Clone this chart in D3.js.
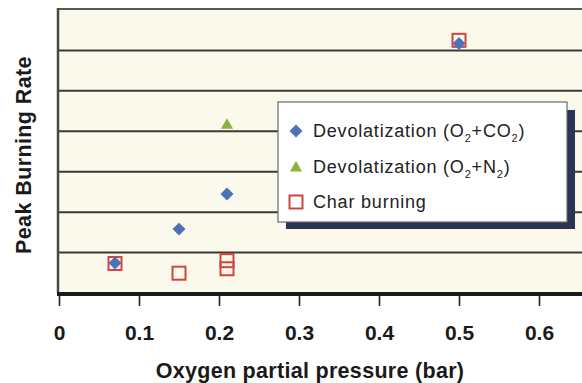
<!DOCTYPE html>
<html>
<head>
<meta charset="utf-8">
<script src="https://cdn.jsdelivr.net/npm/d3@7"></script>
<style>
  body { margin: 0; background: #fff; }
  svg { display: block; font-family: "Liberation Sans", Arial, sans-serif; }
</style>
</head>
<body>
<div id="chart"></div>
<script>
// data (y in grid-band units, no labels on that axis)
const xTicks = [0, 0.1, 0.2, 0.3, 0.4, 0.5, 0.6];
const devolCO2 = [[0.07, 0.74], [0.15, 1.58], [0.21, 2.45], [0.5, 6.17]];
const devolN2 = [[0.21, 4.15]];
const charBurning = [[0.07, 0.73], [0.15, 0.49], [0.21, 0.80], [0.21, 0.60], [0.5, 6.25]];
const legendLabels = [
  {name: "Devolatization (O", sub1: "2", mid: "+CO", sub2: "2", end: ")"},
  {name: "Devolatization (O", sub1: "2", mid: "+N", sub2: "2", end: ")"},
  {name: "Char burning"}
];

const width = 582, height = 383;
const svg = d3.select("#chart").append("svg")
    .attr("width", width)
    .attr("height", height);

const x = d3.scaleLinear().domain([0, 0.7]).range([59, 619]);
const y = d3.scaleLinear().domain([0, 7]).range([293, 10]);

// plot background
svg.append("rect")
    .attr("x", x(0)).attr("y", y(7))
    .attr("width", width - x(0)).attr("height", y(0) - y(7))
    .attr("fill", "#fbf8ec");

// horizontal grid lines
svg.selectAll("line.grid")
  .data(d3.range(1, 7))
  .join("line")
    .attr("class", "grid")
    .attr("x1", x(0)).attr("x2", width)
    .attr("y1", d => y(d)).attr("y2", d => y(d))
    .attr("stroke", "#3b3a36")
    .attr("stroke-width", 2);

// top border
svg.append("line")
    .attr("x1", x(0) - 1).attr("x2", width)
    .attr("y1", y(7) - 1).attr("y2", y(7) - 1)
    .attr("stroke", "#5a5955").attr("stroke-width", 2);

// left border
svg.append("line")
    .attr("x1", x(0) - 1).attr("x2", x(0) - 1)
    .attr("y1", y(7) - 2).attr("y2", y(0))
    .attr("stroke", "#4a4945").attr("stroke-width", 2.5);

// x axis
const xAxis = d3.axisBottom(x)
    .tickValues(xTicks)
    .tickSize(11)
    .tickPadding(19)
    .tickFormat(d => d === 0 ? "0" : d3.format(".1f")(d));

const gx = svg.append("g")
    .attr("transform", `translate(0,${y(0) + 2})`)
    .call(xAxis);
gx.select(".domain").remove();
gx.selectAll(".tick line").attr("stroke", "#222").attr("stroke-width", 1.6);
gx.selectAll(".tick text")
    .attr("fill", "#1a1a1a")
    .style("font-size", "21px")
    .style("font-weight", "bold")
    .style("font-family", "Liberation Sans, Arial, sans-serif");

// thick baseline
svg.append("line")
    .attr("x1", x(0) - 2).attr("x2", width)
    .attr("y1", y(0) + 1).attr("y2", y(0) + 1)
    .attr("stroke", "#1a1a1a").attr("stroke-width", 4);

// axis titles
svg.append("text")
    .attr("x", 310).attr("y", 378)
    .attr("text-anchor", "middle")
    .style("font-size", "21.5px").style("font-weight", "bold")
    .style("letter-spacing", "0.3px")
    .attr("fill", "#1a1a1a")
    .text("Oxygen partial pressure (bar)");

svg.append("text")
    .attr("transform", "translate(31,155) rotate(-90)")
    .attr("text-anchor", "middle")
    .style("font-size", "21.5px").style("font-weight", "bold")
    .style("letter-spacing", "0.4px")
    .attr("fill", "#1a1a1a")
    .text("Peak Burning Rate");

const blue = "#4d72b8", green = "#8ab23c", red = "#d2453d";
const sq = 13;

// char burning (open squares)
svg.selectAll("rect.char")
  .data(charBurning)
  .join("rect")
    .attr("class", "char")
    .attr("x", d => x(d[0]) - sq / 2)
    .attr("y", d => y(d[1]) - sq / 2)
    .attr("width", sq).attr("height", sq)
    .attr("fill", "none")
    .attr("stroke", red).attr("stroke-width", 2);

const diamond = d3.symbol().type(d3.symbolSquare).size(84);
const triangle = d3.symbol().type(d3.symbolTriangle).size(64);

svg.selectAll("path.co2")
  .data(devolCO2)
  .join("path")
    .attr("class", "co2")
    .attr("d", diamond)
    .attr("transform", d => `translate(${x(d[0])},${y(d[1])}) rotate(45)`)
    .attr("fill", blue);

svg.selectAll("path.n2")
  .data(devolN2)
  .join("path")
    .attr("class", "n2")
    .attr("d", triangle)
    .attr("transform", d => `translate(${x(d[0])},${y(d[1])})`)
    .attr("fill", green);

// legend
const lg = svg.append("g");
lg.append("rect")
    .attr("x", 286).attr("y", 110)
    .attr("width", 289).attr("height", 119)
    .attr("fill", "#2b3452");
lg.append("rect")
    .attr("x", 278).attr("y", 102)
    .attr("width", 289).attr("height", 120)
    .attr("fill", "#ffffff")
    .attr("stroke", "#6b6b6b").attr("stroke-width", 1.2);

const rowY = [131, 167, 202];
lg.append("path")
    .attr("d", diamond)
    .attr("transform", `translate(296,${rowY[0]}) rotate(45)`)
    .attr("fill", blue);
lg.append("path")
    .attr("d", triangle)
    .attr("transform", `translate(296,${rowY[1] + 1})`)
    .attr("fill", green);
lg.append("rect")
    .attr("x", 296 - 6.5).attr("y", rowY[2] - 6.5)
    .attr("width", 13).attr("height", 13)
    .attr("fill", "none").attr("stroke", red).attr("stroke-width", 2);

legendLabels.forEach((l, i) => {
  const t = lg.append("text")
      .attr("x", 313).attr("y", rowY[i] + 6)
      .style("font-size", "18px")
      .style("letter-spacing", "0.8px")
      .attr("fill", "#222");
  t.append("tspan").text(l.name);
  if (l.sub1) {
    t.append("tspan").attr("dy", 5).style("font-size", "11px").text(l.sub1);
    t.append("tspan").attr("dy", -5).text(l.mid);
    t.append("tspan").attr("dy", 5).style("font-size", "11px").text(l.sub2);
    t.append("tspan").attr("dy", -5).text(l.end);
  }
});
</script>
</body>
</html>
